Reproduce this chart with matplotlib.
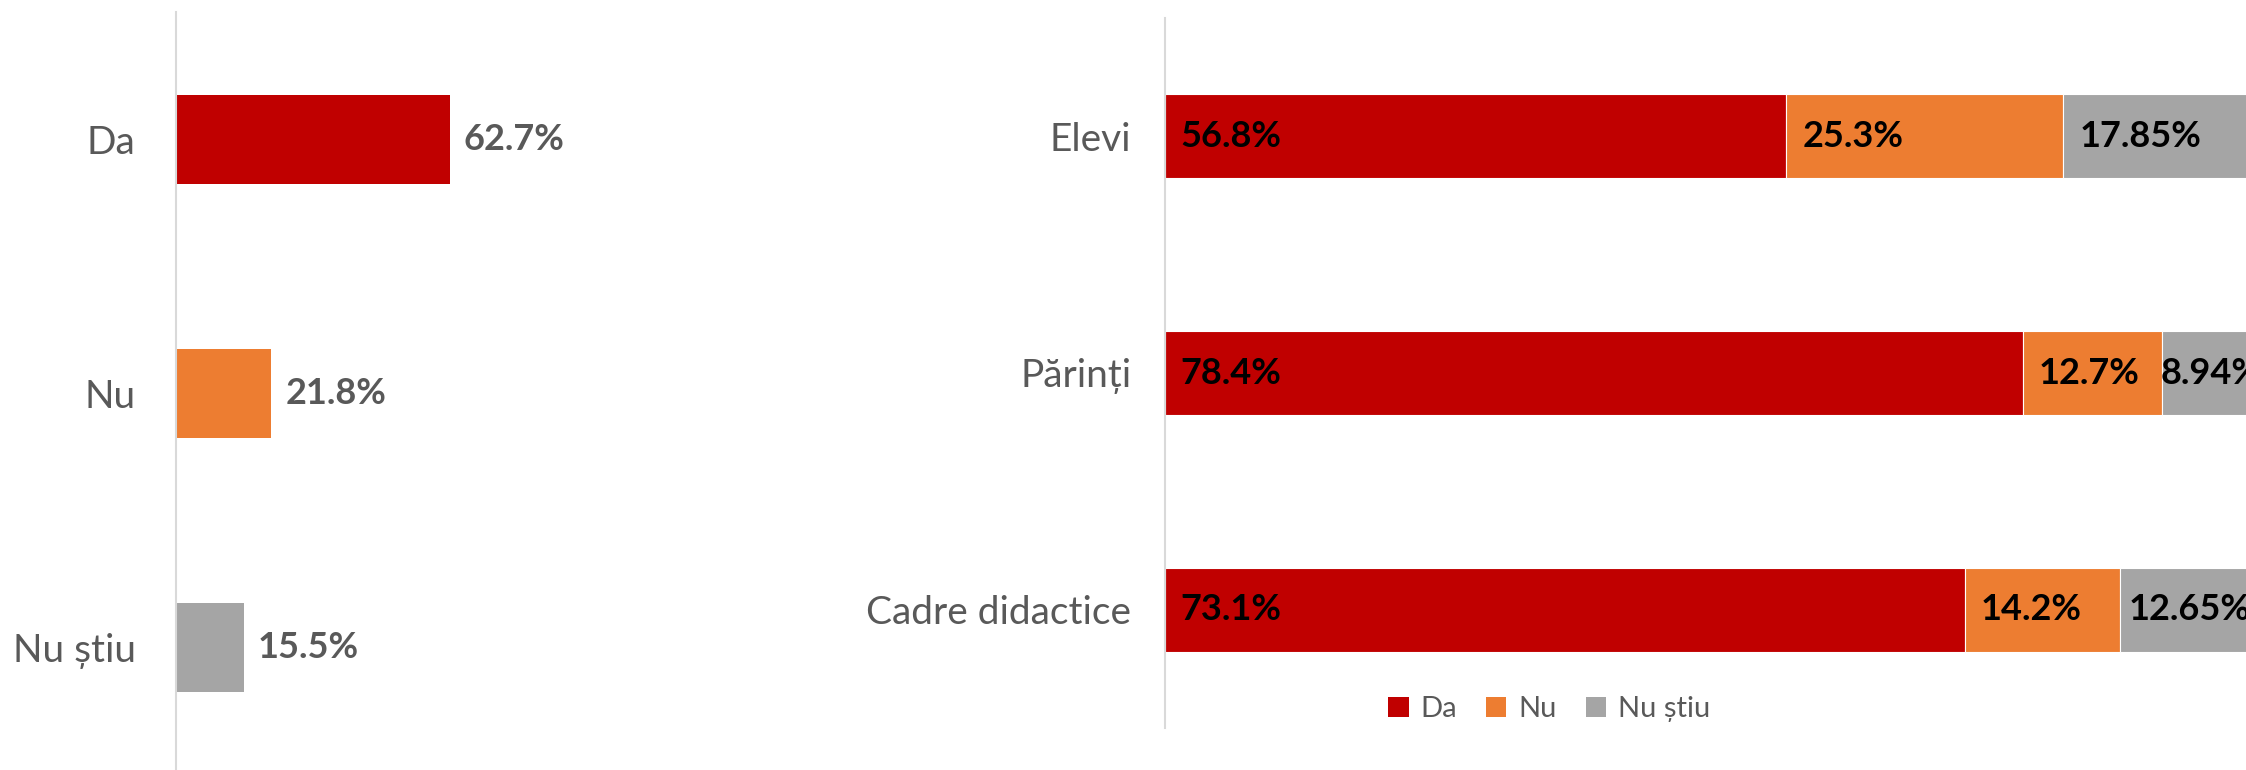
#!/usr/bin/env python3
# -*- coding: utf-8 -*-

import matplotlib
matplotlib.use('Agg')
import matplotlib.pyplot as plt
from matplotlib.patches import Patch

plt.rcParams['font.family'] = ['Lato', 'DejaVu Sans']

# DATA -----------------------------------------------------------------------------------------------------------------

answers = ['Da', 'Nu', 'Nu știu']
overall = [62.7, 21.8, 15.5]

groups = ['Elevi', 'Părinți', 'Cadre didactice']
da_vals = [56.8, 78.4, 73.1]
nu_vals = [25.3, 12.7, 14.2]
ns_vals = [17.85, 8.94, 12.65]
da_labels = ['56.8%', '78.4%', '73.1%']
nu_labels = ['25.3%', '12.7%', '14.2%']
ns_labels = ['17.85%', '8.94%', '12.65%']

# STYLE ----------------------------------------------------------------------------------------------------------------

COLORS = ['#c00000', '#ed7d31', '#a5a5a5']
TEXT_GREY = '#595959'
AXIS_GREY = '#d9d9d9'
W, H = 2246, 770


def style_axis(ax):
    for side in ('top', 'right', 'bottom'):
        ax.spines[side].set_visible(False)
    ax.spines['left'].set_color(AXIS_GREY)
    ax.spines['left'].set_linewidth(1.5)
    ax.set_xticks([])
    ax.tick_params(axis='y', length=0, labelsize=28, labelcolor=TEXT_GREY)


fig = plt.figure(figsize=(W / 100, H / 100), dpi=100)

# LEFT CHART -----------------------------------------------------------------------------------------------------------

ax1 = fig.add_axes([176 / W, 1 - 775 / H, 624 / W, 763 / H])
ax1.barh(range(len(answers)), overall, height=0.35, color=COLORS)
ax1.set_yticks(range(len(answers)), answers)
ax1.set_ylim(2.5, -0.5)
ax1.set_xlim(0, 624 / 4.37)
style_axis(ax1)
ax1.tick_params(axis='y', pad=29)
for i, v in enumerate(overall):
    ax1.annotate(f'{v}%', (v, i), xytext=(10, 0), textcoords='offset points',
                 va='center', ha='left', fontsize=26, fontweight='bold', color=TEXT_GREY)

# RIGHT CHART ----------------------------------------------------------------------------------------------------------

ax2 = fig.add_axes([1164.5 / W, 1 - 728 / H, (W - 1164.5) / W, 710 / H])
ypos = range(len(groups))
lefts = [0.0] * len(groups)
texts = []
for vals, labels, color in zip([da_vals, nu_vals, ns_vals], [da_labels, nu_labels, ns_labels], COLORS):
    ax2.barh(ypos, vals, left=lefts, height=0.355, color=color, edgecolor='white', linewidth=0.8)
    for i, (v, lab) in enumerate(zip(vals, labels)):
        t = ax2.text(lefts[i], i, lab, va='center', ha='left', fontsize=26,
                     fontweight='bold', color='black', clip_on=True)
        texts.append((t, lefts[i], v))
    lefts = [a + b for a, b in zip(lefts, vals)]
ax2.set_yticks(list(ypos), groups)
ax2.set_ylim(2.5, -0.5)
ax2.set_xlim(0, 98.8)
style_axis(ax2)
ax2.tick_params(axis='y', pad=24)

# shift segment labels: small pad from segment start, or centred if the segment is tight
fig.canvas.draw()
renderer = fig.canvas.get_renderer()
px_per_unit = ax2.transData.transform((1, 0))[0] - ax2.transData.transform((0, 0))[0]
for t, start, v in texts:
    tw = t.get_window_extent(renderer).width
    seg = v * px_per_unit
    pad = min(16, (seg - tw) / 2)
    t.set_x(start + pad / px_per_unit)

handles = [Patch(facecolor=c, edgecolor='none') for c in COLORS]
fig.legend(handles, answers, loc='center', bbox_to_anchor=(1549 / W, 1 - 709 / H), ncol=3,
           frameon=False, fontsize=21, labelcolor=TEXT_GREY, handlelength=0.7, handleheight=0.7,
           handletextpad=0.4, columnspacing=1.0)

fig.savefig('out.png', dpi=100)
